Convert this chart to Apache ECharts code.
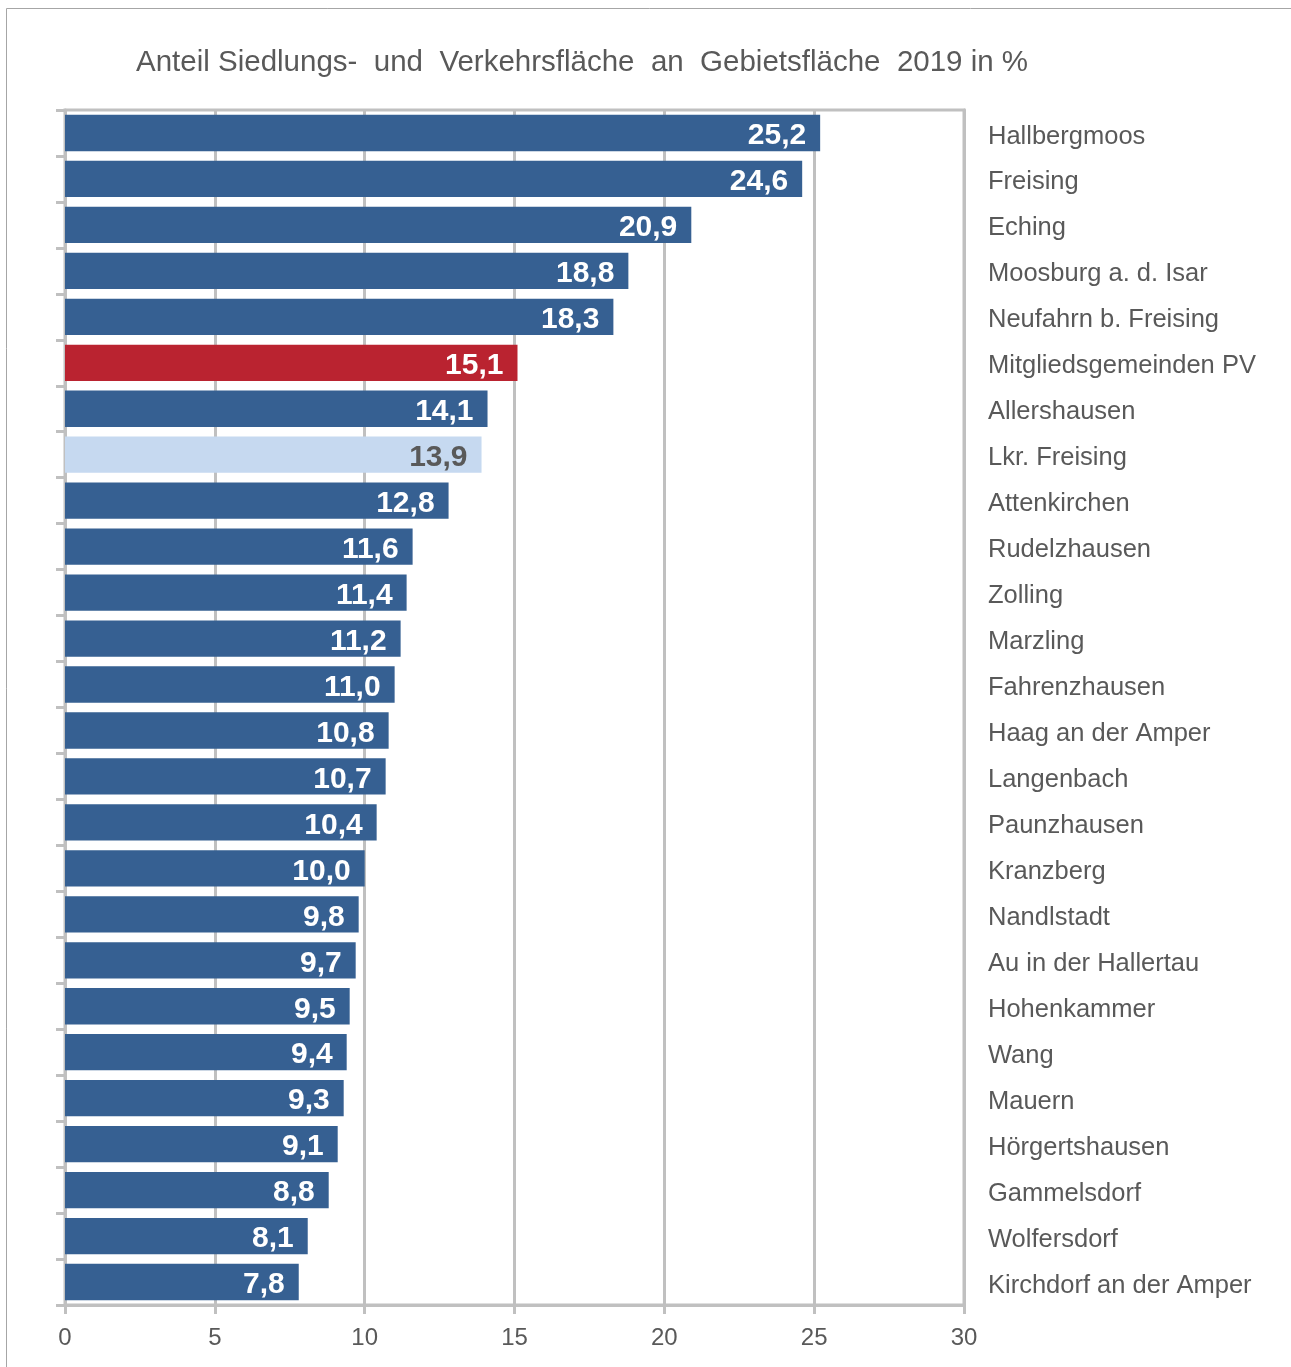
<!DOCTYPE html>
<html>
<head>
<meta charset="utf-8">
<script src="https://cdn.jsdelivr.net/npm/echarts@6/dist/echarts.min.js"></script>
<style>html,body{margin:0;padding:0;background:#fff;}#c{width:1291px;height:1367px;}</style>
</head>
<body>
<div id="c"></div>
<script>
var categories = ["Hallbergmoos","Freising","Eching","Moosburg a. d. Isar","Neufahrn b. Freising","Mitgliedsgemeinden PV","Allershausen","Lkr. Freising","Attenkirchen","Rudelzhausen","Zolling","Marzling","Fahrenzhausen","Haag an der Amper","Langenbach","Paunzhausen","Kranzberg","Nandlstadt","Au in der Hallertau","Hohenkammer","Wang","Mauern","Hörgertshausen","Gammelsdorf","Wolfersdorf","Kirchdorf an der Amper"];
var values = [25.2,24.6,20.9,18.8,18.3,15.1,14.1,13.9,12.8,11.6,11.4,11.2,11.0,10.8,10.7,10.4,10.0,9.8,9.7,9.5,9.4,9.3,9.1,8.8,8.1,7.8];
var xTicks = [0,5,10,15,20,25,30];
var titleText = "Anteil Siedlungs-  und  Verkehrsfläche  an  Gebietsfläche  2019 in %";

var BLUE = '#366092', RED = '#BA2330', LIGHT = '#C6D9F0';
var FONT = '"Liberation Sans", Arial, sans-serif';
var data = values.map(function(v, i){
  var c = categories[i];
  var color = c === 'Mitgliedsgemeinden PV' ? RED : (c === 'Lkr. Freising' ? LIGHT : BLUE);
  var lblColor = c === 'Lkr. Freising' ? '#595959' : '#ffffff';
  return {value: v, itemStyle: {color: color}, label: {color: lblColor}};
});

var chart = echarts.init(document.getElementById('c'));
chart.setOption({
  animation: false,
  backgroundColor: '#fff',
  graphic: [{type:'rect', shape:{x:6.5,y:8.5,width:1400,height:1500}, style:{fill:'none', stroke:'#a6a6a6', lineWidth:1}}],
  title: {text: titleText, left: 131, top: 43, textStyle:{fontFamily: FONT, fontSize: 29.5, fontWeight:'normal', color:'#595959'}},
  grid: {left: 65, right: 327, top: 110, bottom: 62, show: true, borderColor:'#c0c0c0', borderWidth: 3},
  xAxis: {
    type: 'value', min: 0, max: 30, interval: 5,
    axisLine: {show: true, lineStyle:{color:'#c0c0c0', width:3}},
    axisTick: {show: true, length: 9, lineStyle:{color:'#c0c0c0', width:3}},
    splitLine: {show: true, lineStyle:{color:'#c0c0c0', width:3}},
    axisLabel: {fontFamily: FONT, fontSize: 24, color:'#595959', margin: 21,
      formatter: function(v){ return xTicks.indexOf(v) >= 0 ? String(v) : ''; }}
  },
  yAxis: [{
    type: 'category', data: categories, inverse: true, position: 'left',
    axisLine: {show: true, lineStyle:{color:'#c0c0c0', width:3}},
    axisTick: {show: true, length: 9, lineStyle:{color:'#c0c0c0', width:3}},
    axisLabel: {show: false}
  },{
    type: 'category', data: categories, inverse: true, position: 'right',
    axisLine: {show: true, lineStyle:{color:'#c0c0c0', width:3}},
    axisTick: {show: false},
    axisLabel: {show: true, margin: 24, align: 'left',
      formatter: function(v){ return '{a|' + v + '}'; },
      rich: {a: {fontFamily: FONT, fontSize: 25.5, color:'#595959', padding: [7,0,0,0]}}}
  }],
  series: [{
    type: 'bar', data: data, yAxisIndex: 0, barCategoryGap: '21%',
    label: {show: true, position: 'insideRight', distance: 14, offset: [0, 3], fontFamily: FONT, fontSize: 30, fontWeight: 'bold',
      formatter: function(p){ return p.value.toFixed(1).replace('.', ','); }}
  }]
});
</script>
</body>
</html>
